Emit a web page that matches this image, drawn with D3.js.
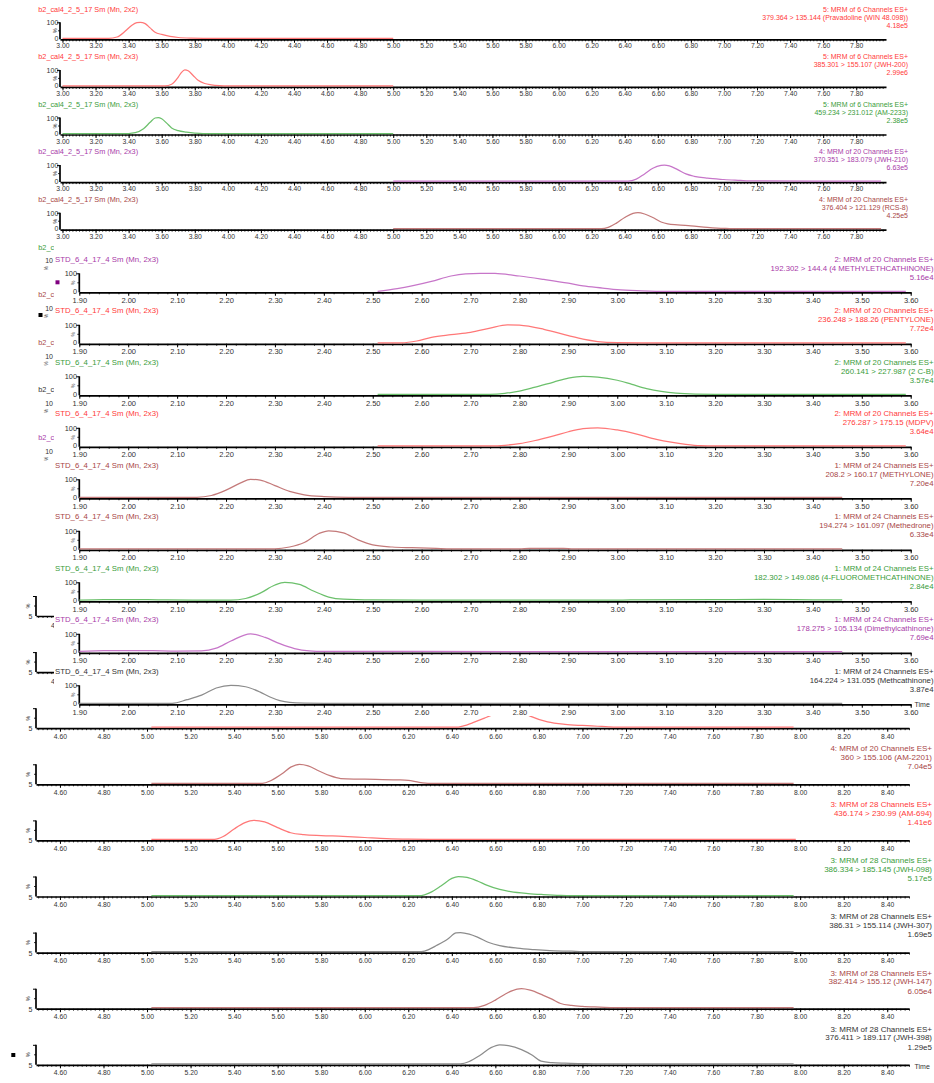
<!DOCTYPE html>
<html><head><meta charset="utf-8">
<script src="https://cdn.jsdelivr.net/npm/d3@7"></script>
<style>
body{margin:0;background:#fff;}
svg{display:block;font-family:"Liberation Sans",Arial,sans-serif;}
</style>
</head><body>
<svg id="chart" width="934" height="1083"></svg>
<script>
// ---------------- DATA ----------------
// Top block (b2_cal4_2_5_17), time 3.00 - 7.98 min
const aTitles = ["b2_cal4_2_5_17 Sm (Mn, 2x2)","b2_cal4_2_5_17 Sm (Mn, 2x3)","b2_cal4_2_5_17 Sm (Mn, 2x3)","b2_cal4_2_5_17 Sm (Mn, 2x3)","b2_cal4_2_5_17 Sm (Mn, 2x3)"];
const aHues = ["red","red","green","purple","brown"];
// further panels of the top block, mostly covered by the middle block (only their left edge shows)
const aHiddenTitles = ["b2_c","b2_c","b2_c","b2_c","b2_c"];
const aHiddenHues = ["green","brown","brown","gray","purple"];
const aHiddenYLabel = "10";
const aChannels = ["5: MRM of 6 Channels ES+","5: MRM of 6 Channels ES+","5: MRM of 6 Channels ES+","4: MRM of 20 Channels ES+","4: MRM of 20 Channels ES+"];
const aTransitions = ["379.364 > 135.144 (Pravadoline (WIN 48.098))","385.301 > 155.107 (JWH-200)","459.234 > 231.012 (AM-2233)","370.351 > 183.079 (JWH-210)","376.404 > 121.129 (RCS-8)"];
const aMax = ["4.18e5","2.99e6","2.38e5","6.63e5","4.25e5"];
const aTickLabels = ["3.00","3.20","3.40","3.60","3.80","4.00","4.20","4.40","4.60","4.80","5.00","5.20","5.40","5.60","5.80","6.00","6.20","6.40","6.60","6.80","7.00","7.20","7.40","7.60","7.80"];

const pravadoline = [[3.00,0],[3.28,0],[3.33,8],[3.38,45],[3.42,82],[3.45,98],[3.47,100],[3.50,92],[3.53,65],[3.56,38],[3.60,24],[3.65,12],[3.70,5],[3.78,1],[3.85,0],[5.00,0]];
const jwh200 = [[3.00,0],[3.62,0],[3.66,10],[3.70,55],[3.72,85],[3.74,100],[3.76,95],[3.79,65],[3.82,35],[3.86,15],[3.90,7],[3.95,2],[4.00,0],[5.00,0]];
const am2233 = [[3.00,0],[3.40,0],[3.44,5],[3.49,30],[3.53,70],[3.56,97],[3.58,100],[3.60,92],[3.63,65],[3.66,35],[3.70,18],[3.75,9],[3.80,3],[3.85,0],[5.00,0]];
const jwh210 = [[5.00,0],[6.42,0],[6.47,12],[6.52,45],[6.57,80],[6.62,98],[6.64,100],[6.67,95],[6.72,72],[6.77,45],[6.82,30],[6.90,18],[7.00,10],[7.10,4],[7.15,1],[7.95,0]];
const rcs8 = [[5.00,0],[6.26,0],[6.30,8],[6.35,35],[6.40,70],[6.45,96],[6.48,100],[6.52,92],[6.57,70],[6.62,42],[6.66,30],[6.72,24],[6.80,18],[6.90,9],[7.00,2],[7.05,0],[7.95,0]];

// Middle block (STD_6_4_17_4), time 1.90 - 3.60 min
const bTitle = "STD_6_4_17_4 Sm (Mn, 2x3)";
const bHues = ["purple","red","green","red","brown","brown","green","purple","gray"];
const bChannels = ["2: MRM of 20 Channels ES+","2: MRM of 20 Channels ES+","2: MRM of 20 Channels ES+","2: MRM of 20 Channels ES+",
  "1: MRM of 24 Channels ES+","1: MRM of 24 Channels ES+","1: MRM of 24 Channels ES+","1: MRM of 24 Channels ES+","1: MRM of 24 Channels ES+"];
const bTransitions = ["192.302 > 144.4 (4 METHYLETHCATHINONE)","236.248 > 188.26 (PENTYLONE)","260.141 > 227.987 (2 C-B)","276.287 > 175.15 (MDPV)",
  "208.2 > 160.17 (METHYLONE)","194.274 > 161.097 (Methedrone)","182.302 > 149.086 (4-FLUOROMETHCATHINONE)","178.275 > 105.134 (Dimethylcathinone)","164.224 > 131.055 (Methcathinone)"];
const bMax = ["5.16e4","7.72e4","3.57e4","3.64e4","7.20e4","6.33e4","2.84e4","7.69e4","3.87e4"];
const bTickLabels = ["1.90","2.00","2.10","2.20","2.30","2.40","2.50","2.60","2.70","2.80","2.90","3.00","3.10","3.20","3.30","3.40","3.50","3.60"];

const mec4 = [[2.51,0],[2.55,15],[2.58,30],[2.62,55],[2.66,85],[2.69,97],[2.72,100],[2.75,99],[2.80,85],[2.85,66],[2.90,45],[2.93,30],[2.97,18],[3.00,9],[3.05,3],[3.10,0],[3.59,0]];
const pentylone = [[2.51,0],[2.56,0],[2.59,10],[2.62,30],[2.66,45],[2.70,58],[2.74,82],[2.775,100],[2.80,98],[2.85,75],[2.90,40],[2.93,20],[2.96,7],[3.00,1],[3.05,0],[3.59,0]];
const cb2 = [[2.51,0],[2.74,0],[2.77,5],[2.80,18],[2.83,38],[2.87,68],[2.90,90],[2.93,100],[2.96,96],[3.00,78],[3.03,55],[3.06,32],[3.09,16],[3.12,6],[3.16,1],[3.20,0],[3.59,0]];
const mdpv = [[2.51,0],[2.74,0],[2.77,3],[2.80,12],[2.83,28],[2.87,55],[2.90,78],[2.93,95],[2.96,100],[3.00,88],[3.04,65],[3.08,36],[3.11,20],[3.14,8],[3.17,1],[3.20,0],[3.59,0]];
const methylone = [[1.90,0],[2.14,0],[2.17,10],[2.20,40],[2.23,80],[2.25,100],[2.27,96],[2.30,65],[2.33,33],[2.36,14],[2.40,4],[2.45,0],[3.46,0]];
const methedrone = [[1.90,0],[2.30,0],[2.33,10],[2.36,35],[2.39,85],[2.41,100],[2.44,88],[2.47,50],[2.50,22],[2.54,10],[2.58,6],[2.63,2],[2.66,0],[2.80,0],[2.82,2],[2.89,2],[2.91,0],[3.46,0]];
const fmc4 = [[1.90,1],[1.95,4],[2.04,4],[2.08,2],[2.21,1],[2.24,10],[2.27,40],[2.30,85],[2.32,100],[2.35,88],[2.38,50],[2.41,18],[2.44,6],[2.50,2],[2.60,1],[3.00,1],[3.05,3],[3.20,4],[3.30,5],[3.40,3],[3.46,2]];
const dimethylcathinone = [[1.90,3],[1.95,6],[2.00,7],[2.05,6],[2.10,4],[2.15,5],[2.18,20],[2.21,60],[2.25,100],[2.28,80],[2.31,45],[2.34,18],[2.37,5],[2.40,2],[2.60,2],[3.00,1],[3.46,1]];
const methcathinone = [[1.90,0],[2.09,0],[2.12,20],[2.15,45],[2.18,85],[2.21,100],[2.24,92],[2.27,62],[2.29,35],[2.31,15],[2.33,5],[2.36,1],[2.40,0],[3.46,0]];

// Bottom block, time 4.49 - 8.50 min
const cHues = ["gray","gray","red","brown","red","green","gray","brown","gray"];
const cChannels = ["","","","4: MRM of 20 Channels ES+","3: MRM of 28 Channels ES+","3: MRM of 28 Channels ES+","3: MRM of 28 Channels ES+","3: MRM of 28 Channels ES+","3: MRM of 28 Channels ES+"];
const cTransitions = ["","","","360 > 155.106 (AM-2201)","436.174 > 230.99 (AM-694)","386.334 > 185.145 (JWH-098)","386.31 > 155.114 (JWH-307)","382.414 > 155.12 (JWH-147)","376.411 > 189.117 (JWH-398)"];
const cMax = ["","","","7.04e5","1.41e6","5.17e5","1.69e5","6.05e4","1.29e5"];
const cTickLabels = ["4.60","4.80","5.00","5.20","5.40","5.60","5.80","6.00","6.20","6.40","6.60","6.80","7.00","7.20","7.40","7.60","7.80","8.00","8.20","8.40"];
const cHiddenTickFragment = "4";

const partialRed = [[5.02,0],[6.42,0],[6.45,6],[6.50,25],[6.55,48],[6.58,62],[6.62,88],[6.66,100],[6.71,88],[6.76,58],[6.84,28],[6.92,15],[7.00,9],[7.07,5],[7.12,2],[7.18,0],[7.97,0]];
const am2201 = [[5.02,0],[5.53,0],[5.57,15],[5.62,50],[5.66,85],[5.70,100],[5.74,92],[5.79,65],[5.84,40],[5.89,25],[5.95,22],[6.05,21],[6.15,18],[6.20,15],[6.25,5],[6.30,0],[7.97,0]];
const am694 = [[5.02,0],[5.31,0],[5.35,15],[5.40,55],[5.45,88],[5.49,100],[5.54,92],[5.60,62],[5.66,35],[5.72,25],[5.80,20],[5.90,16],[6.00,10],[6.10,4],[6.20,1],[6.30,0],[7.98,0]];
const jwh098 = [[5.02,0],[6.26,0],[6.30,15],[6.35,50],[6.40,90],[6.43,100],[6.47,95],[6.52,75],[6.56,55],[6.62,32],[6.67,20],[6.75,10],[6.82,5],[6.90,1],[6.95,0],[7.97,0]];
const jwh307 = [[5.02,0],[6.26,0],[6.30,14],[6.33,32],[6.38,65],[6.42,98],[6.44,100],[6.48,92],[6.52,75],[6.57,48],[6.62,32],[6.70,18],[6.78,10],[6.85,5],[6.95,2],[7.00,0],[7.97,0]];
const jwh147 = [[5.02,0],[6.50,0],[6.55,12],[6.60,40],[6.65,75],[6.70,98],[6.72,100],[6.76,92],[6.82,65],[6.86,45],[6.90,22],[6.95,12],[7.00,7],[7.08,3],[7.15,0],[7.97,0]];
const jwh398 = [[5.02,0],[6.44,0],[6.48,12],[6.53,45],[6.58,85],[6.62,100],[6.66,96],[6.72,75],[6.77,45],[6.81,14],[6.86,6],[6.92,3],[7.00,1],[7.05,0],[7.97,0]];

// ---------------- RENDER ----------------
const seriesA = [pravadoline, jwh200, am2233, jwh210, rcs8];
const seriesB = [mec4, pentylone, cb2, mdpv, methylone, methedrone, fmc4, dimethylcathinone, methcathinone];
const seriesC = [null, null, partialRed, am2201, am694, jwh098, jwh307, jwh147, jwh398];

const textColor = {red:"#ff3a3a", green:"#3a9c3a", purple:"#a83aa8", brown:"#a84646", gray:"#333333"};
const lineColor = {red:"#ff7878", green:"#6cc06c", purple:"#c776c9", brown:"#c47a7a", gray:"#8c8c8c"};
const FONT = '"Liberation Sans",Arial,sans-serif';

const svg = d3.select("#chart");

function minorRange(a, b) {
  const n = Math.round((b - a) / 0.02);
  return d3.range(n + 1).map(i => +(a + i * 0.02).toFixed(2));
}

function drawXAxis(g, x, axisY, labels, minor, fs, pad, showLabels = true) {
  const gm = g.append("g").attr("transform", `translate(0,${axisY})`)
    .call(d3.axisBottom(x).tickValues(minor).tickSize(2).tickSizeOuter(0).tickFormat(""));
  gm.select(".domain").remove();
  gm.selectAll("text").remove();
  gm.selectAll("line").attr("stroke", "#000").attr("stroke-width", 0.8);
  const ga = g.append("g").attr("transform", `translate(0,${axisY})`)
    .call(d3.axisBottom(x).tickValues(labels.map(Number)).tickSize(3.5).tickPadding(pad).tickSizeOuter(0)
      .tickFormat((d, i) => labels[i]));
  ga.attr("font-size", fs).attr("font-family", FONT);
  ga.select(".domain").attr("stroke", "#000").attr("stroke-width", 1.7);
  ga.selectAll("line").attr("stroke", "#000").attr("stroke-width", 1);
  if (showLabels) ga.selectAll("text").attr("fill", "#333");
  else ga.selectAll("text").remove();
}

function drawYAxis(g, xPos, axisY, h) {
  g.append("line").attr("x1", xPos).attr("x2", xPos).attr("y1", axisY).attr("y2", axisY - h)
    .attr("stroke", "#000").attr("stroke-width", 1.7);
  g.append("line").attr("x1", xPos - 3).attr("x2", xPos).attr("y1", axisY - h + 0.5).attr("y2", axisY - h + 0.5)
    .attr("stroke", "#000").attr("stroke-width", 1);
  g.append("line").attr("x1", xPos - 2).attr("x2", xPos).attr("y1", axisY - h / 2).attr("y2", axisY - h / 2)
    .attr("stroke", "#000").attr("stroke-width", 0.8);
}

function drawSeries(g, x, axisY, h, data, color) {
  const y = d3.scaleLinear().domain([0, 100]).range([axisY - 1, axisY - h]);
  g.append("path").datum(data)
    .attr("d", d3.line().x(d => x(d[0])).y(d => y(d[1])).curve(d3.curveMonotoneX))
    .attr("fill", "none").attr("stroke", color).attr("stroke-width", 1.25);
}

function rightLabels(g, xEnd, axisY, lines, offsets, fs, color) {
  lines.forEach((t, i) => {
    if (!t) return;
    g.append("text").attr("x", xEnd).attr("y", axisY + offsets[i]).attr("text-anchor", "end")
      .attr("dominant-baseline", "central").attr("font-size", fs).attr("fill", color).text(t);
  });
}

function yLabels(g, xEnd, axisY, h, fs, pctX, pctFs) {
  g.append("text").attr("x", xEnd).attr("y", axisY - h + 0.5).attr("text-anchor", "end")
    .attr("dominant-baseline", "central").attr("font-size", fs).attr("fill", "#333").text("100");
  g.append("text").attr("transform", `translate(${pctX},${axisY - h / 2}) rotate(-90)`).attr("text-anchor", "middle")
    .attr("dominant-baseline", "central").attr("font-size", pctFs).attr("fill", "#333").text("%");
  g.append("text").attr("x", xEnd).attr("y", axisY - 1).attr("text-anchor", "end")
    .attr("dominant-baseline", "central").attr("font-size", fs).attr("fill", "#333").text("0");
}

// ---- Block A ----
const xA = d3.scaleLinear().domain([2.985, 7.98]).range([60, 886]);
const gA = svg.append("g").attr("font-family", FONT);
aTitles.forEach((title, i) => {
  const axisY = 39.3 + i * 47.6, h = 17;
  const g = gA.append("g");
  g.append("text").attr("x", 38.3).attr("y", axisY - 30.3).attr("dominant-baseline", "central")
    .attr("font-size", 7.3).attr("fill", textColor[aHues[i]]).text(title);
  yLabels(g, 58.3, axisY, h, 7, 54.5, 5.5);
  drawYAxis(g, 60, axisY, h);
  drawXAxis(g, xA, axisY, aTickLabels, minorRange(3.00, 7.96), 6.8, 0.8);
  drawSeries(g, xA, axisY, h, seriesA[i], lineColor[aHues[i]]);
  rightLabels(g, 908, axisY, [aChannels[i], aTransitions[i], aMax[i]], [-30.3, -22.3, -14.2], 7, textColor[aHues[i]]);
});
// hidden continuation of block A (left edge only)
aHiddenTitles.forEach((title, j) => {
  const i = j + aTitles.length;
  const axisY = 39.3 + i * 47.6, h = 17;
  const g = gA.append("g");
  g.append("text").attr("x", 38.3).attr("y", axisY - 30.3).attr("dominant-baseline", "central")
    .attr("font-size", 7.3).attr("fill", textColor[aHiddenHues[j]]).text(title);
  g.append("text").attr("x", 53).attr("y", axisY - h + 0.5).attr("text-anchor", "end")
    .attr("dominant-baseline", "central").attr("font-size", 7).attr("fill", "#333").text(aHiddenYLabel);
  g.append("text").attr("transform", `translate(46,${axisY - 9}) rotate(-90)`).attr("text-anchor", "middle")
    .attr("dominant-baseline", "central").attr("font-size", 4.5).attr("fill", "#333").text("%");
});

// ---- Block C ----
const xC = d3.scaleLinear().domain([4.49, 8.50]).range([36, 909]);
const gC = svg.append("g").attr("font-family", FONT);
cHues.forEach((hue, i) => {
  const axisY = 616 + i * 56.1, h = 20;
  const hidden = i < 2;
  const g = gC.append("g");
  g.append("text").attr("transform", `translate(28,${axisY - 10}) rotate(-90)`).attr("text-anchor", "middle")
    .attr("dominant-baseline", "central").attr("font-size", 5.5).attr("fill", "#333").text("%");
  g.append("text").attr("x", 32.5).attr("y", axisY + 0.5).attr("text-anchor", "end")
    .attr("dominant-baseline", "central").attr("font-size", 7).attr("fill", "#333").text("5");
  drawYAxis(g, 36, axisY, h);
  drawXAxis(g, xC, axisY, cTickLabels, minorRange(4.50, 8.50), 6.8, 2.2, !hidden);
  if (hidden) {
    g.append("text").attr("x", 51).attr("y", axisY + 9.5).attr("dominant-baseline", "central")
      .attr("font-size", 6.8).attr("fill", "#333").text(cHiddenTickFragment);
  }
  if (seriesC[i]) drawSeries(g, xC, axisY, h, seriesC[i], lineColor[hue]);
  rightLabels(g, 932, axisY, [cChannels[i], cTransitions[i], cMax[i]], [-35.7, -27, -17.7], 8, textColor[hue]);
  if (i === cHues.length - 1) {
    g.append("text").attr("x", 914.5).attr("y", axisY + 1.5).attr("dominant-baseline", "central")
      .attr("font-size", 7).attr("fill", "#333").text("Time");
  }
});

// ---- Block B (pasted over the others) ----
svg.append("rect").attr("x", 54).attr("y", 242).attr("width", 880).attr("height", 474).attr("fill", "#fff");
const xB = d3.scaleLinear().domain([1.90, 3.60]).range([79.3, 910.7]);
const gB = svg.append("g").attr("font-family", FONT);
bHues.forEach((hue, i) => {
  const axisY = 292.3 + i * 51.5, h = 19;
  const g = gB.append("g");
  g.append("text").attr("x", 55).attr("y", axisY - 33).attr("dominant-baseline", "central")
    .attr("font-size", 7.8).attr("fill", textColor[hue]).text(bTitle);
  yLabels(g, 77, axisY, h, 7.3, 73.3, 5);
  drawYAxis(g, 79.3, axisY, h);
  drawXAxis(g, xB, axisY, bTickLabels, minorRange(1.90, 3.60), 7.5, 1.5);
  drawSeries(g, xB, axisY, h, seriesB[i], lineColor[hue]);
  rightLabels(g, 933.5, axisY, [bChannels[i], bTransitions[i], bMax[i]], [-33.3, -24.3, -15.3], 7.8, textColor[hue]);
  if (i === bHues.length - 1) {
    g.append("text").attr("x", 914.5).attr("y", axisY + 0.5).attr("dominant-baseline", "central")
      .attr("font-size", 7).attr("fill", "#333").text("Time");
  }
});

// small legend squares
const markers = [[57.5, 282.3, "#800080"], [40.5, 315, "#000"], [13.3, 1055, "#000"]];
svg.selectAll("rect.mk").data(markers).join("rect").attr("class", "mk")
  .attr("x", d => d[0] - 2).attr("y", d => d[1] - 2).attr("width", 4).attr("height", 4).attr("fill", d => d[2]);
</script>
</body></html>
